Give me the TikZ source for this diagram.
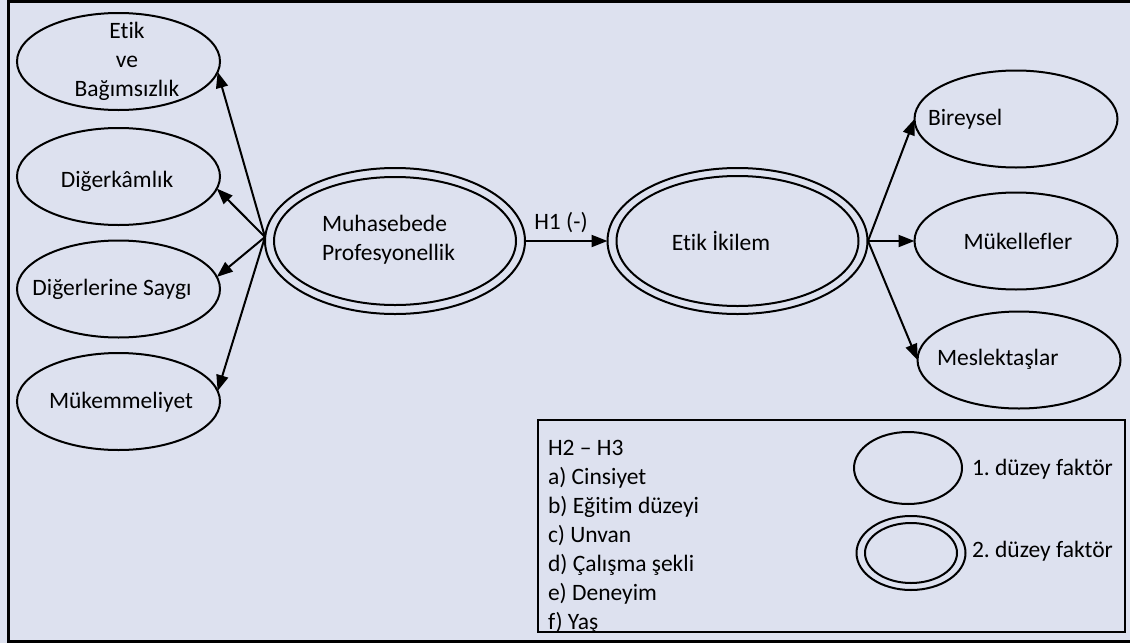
\documentclass[tikz,border=0pt]{standalone}
\usepackage{fontspec}
\setmainfont{Carlito}[Ligatures=NoCommon]
\usetikzlibrary{shapes.geometric,arrows.meta}
\definecolor{bgc}{RGB}{221,225,239}
\frenchspacing
\begin{document}
\begin{tikzpicture}[x=1pt,y=-1pt,
  every node/.style={font=\fontsize{23.5}{29}\selectfont, inner sep=0pt, outer sep=0pt},
  fac1/.style={draw, ellipse, line width=2pt, minimum width=203pt, minimum height=97pt},
  fac2/.style={draw, ellipse, line width=2pt, minimum width=260pt, minimum height=146pt},
  inring/.style={line width=2pt},
  arr/.style={line width=2pt, -{Triangle[length=16pt,width=12pt]}},
  txt/.style={anchor=base}]
\useasboundingbox (0,0) rectangle (1130,643);
\clip (0,0) rectangle (1130,643);
\fill[bgc] (0,0) rectangle (1130,643);
\draw[line width=3pt] (8,1.5) rectangle (1145,641.5);

% left first-order factors
\node[fac1] (etik) at (118.5,61.5) {};
\node[fac1] (diger) at (118.5,176.5) {};
\node[fac1] (saygi) at (118.5,289) {};
\node[fac1] (mukem) at (118.5,401.5) {};
\node[txt, align=center] (t-etik) at (127,96) {Etik\\ve\\Bağımsızlık};
\node[txt] (t-diger) at (117,187) {Diğerkâmlık};
\node[txt] (t-saygi) at (112,295) {Diğerlerine Saygı};
\node[txt] (t-mukem) at (121,408) {Mükemmeliyet};

% second-order factors
\node[fac2] (muh) at (395,241) {};
\draw[inring] (muh.center) ellipse [x radius=121, y radius=64];
\node[txt, anchor=base west, align=left] (t-muh) at (322,260) {Muhasebede\\Profesyonellik};

\node[fac2] (ikilem) at (737.5,241) {};
\draw[inring] (ikilem.center) ellipse [x radius=121, y radius=65];
\node[txt] (t-ikilem) at (721,250) {Etik İkilem};

% right first-order factors
\node[fac1] (birey) at (1016,119) {};
\node[fac1] (muk) at (1016,241) {};
\node[fac1] (mesl) at (1019,360) {};
\node[anchor=base west] (t-birey) at (928,125) {Bireysel};
\node[txt] (t-muk) at (1018,249) {Mükellefler};
\node[anchor=base west] (t-mesl) at (937,365) {Meslektaşlar};

% connectors
\coordinate (cl) at (265,237);
\draw[arr] (cl) -- (etik.-6);
\draw[arr] (cl) -- (diger.-7);
\draw[arr] (cl) -- (saygi.7);
\draw[arr] (cl) -- (mukem.6);

\draw[arr] (muh.east) -- (ikilem.west);
\node[txt] (h1) at (561,229) {H1 (-)};

\coordinate (cr) at (868,241);
\draw[arr] (cr) -- (birey.west);
\draw[arr] (cr) -- (muk.west);
\draw[arr] (cr) -- (mesl.west);

% legend
\node[anchor=north west, align=left] (list) at (548,440)
  {H2 – H3\\a) Cinsiyet\\b) Eğitim düzeyi\\c) Unvan\\d) Çalışma şekli\\e) Deneyim\\f) Yaş};
\draw[line width=2.5pt] (538,420) rectangle (1125,632);
\node[draw, ellipse, line width=2pt, minimum width=108pt, minimum height=72pt] (lg1) at (908,468) {};
\node[draw, ellipse, line width=2pt, minimum width=109pt, minimum height=74pt] (lg2) at (911,553) {};
\draw[inring] (lg2.center) ellipse [x radius=46, y radius=30];
\node[anchor=base west] (lt1) at (972,475) {1. düzey faktör};
\node[anchor=base west] (lt2) at (972,557) {2. düzey faktör};
\end{tikzpicture}
\end{document}
